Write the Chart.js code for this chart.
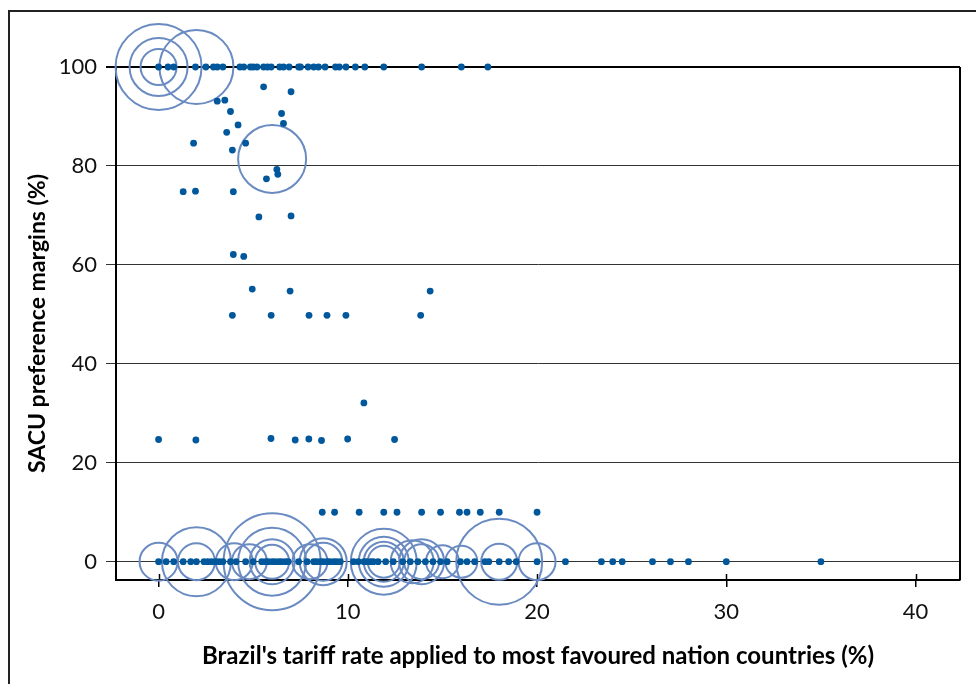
<!DOCTYPE html>
<html>
<head>
<meta charset="utf-8">
<script src="https://cdn.jsdelivr.net/npm/chart.js@4/dist/chart.umd.min.js"></script>
<style>
  html, body { margin: 0; padding: 0; background: #fff; overflow: hidden; }
  #wrap { position: relative; width: 976px; height: 684px; overflow: hidden; }
  #frame {
    position: absolute; left: 8px; top: 10px; width: 1200px; height: 900px;
    border-top: 2px solid #222; border-left: 2px solid #222; pointer-events: none;
  }
  canvas { position: absolute; left: 0; top: 0; }
</style>
</head>
<body>
<div id="wrap">
  <div id="frame"></div>
  <canvas id="myChart" width="976" height="684"></canvas>
</div>
<script>
// tariff lines with 100% preference margin (x = Brazil MFN rate)
const rowHundredX = [0, 0.5, 0.8, 1.95, 2.5, 2.9, 3.1, 3.4, 4.3, 4.5, 4.85, 5.0, 5.2, 5.55, 5.75, 5.95,
  6.4, 6.6, 6.9, 7.4, 7.5, 7.9, 8.2, 8.45, 8.8, 9.35, 9.55, 9.9, 10.4, 10.9, 11.9, 13.9, 16.0, 17.4];

// tariff lines with 10% preference margin
const rowTenX = [8.65, 9.3, 10.6, 11.9, 12.6, 13.9, 14.9, 15.9, 16.3, 17.0, 18.0, 20.0];

// tariff lines with no preference margin
const rowZeroX = [0, 0.4, 0.8, 1.3, 1.7, 2.0, 2.4, 2.6, 2.8, 3.0, 3.2, 3.4, 3.8, 4.1, 4.6, 5.0,
  5.45, 5.65, 5.8, 6.0, 6.15, 6.35, 6.5, 6.7, 6.85, 7.4, 7.85, 8.2, 8.35, 8.55, 8.7, 8.9, 9.05,
  9.25, 9.4, 9.6, 10.3, 10.55, 10.85, 11.0, 11.2, 11.35, 11.6, 12.0, 12.4, 12.9, 13.3, 13.7,
  14.1, 14.5, 14.9, 15.25, 15.95, 16.3, 16.7, 17.25, 17.45, 18.0, 18.5, 18.9, 20.0, 21.5,
  23.4, 24.0, 24.5, 26.1, 27.05, 28.0, 30.0, 35.0];

// remaining tariff lines
const otherX = [5.55, 7.0, 3.1, 3.5, 3.8, 6.5, 6.6, 4.2, 3.6, 1.85, 4.6, 3.9, 6.25, 6.3, 5.7,
  1.3, 1.95, 3.95, 5.3, 7.0, 3.95, 4.5, 4.95, 6.95, 14.35, 3.9, 5.95, 7.95, 8.9, 9.9, 13.85,
  10.85, 0, 1.97, 5.94, 7.22, 7.94, 8.61, 9.99, 12.47];
const otherY = [96.0, 95.0, 93.1, 93.3, 91.0, 90.6, 88.6, 88.3, 86.8, 84.6, 84.6, 83.2, 79.3, 78.3, 77.4,
  74.8, 74.9, 74.8, 69.7, 69.9, 62.1, 61.7, 55.1, 54.7, 54.7, 49.8, 49.8, 49.8, 49.8, 49.8, 49.8,
  32.1, 24.7, 24.6, 24.9, 24.6, 24.8, 24.5, 24.8, 24.7];

// bubbles (number of tariff lines at a point)
const bubbleX = [0, 0, 0, 2, 6, 0, 2, 2, 4, 4.8, 6, 6, 6, 6, 8, 8.7, 8.7,
  11.9, 11.9, 11.9, 11.9, 13.4, 13.9, 13.9, 15, 16, 18, 18, 20];
const bubbleY = [100, 100, 100, 100, 81.4, 0, 0, 0, 0, 0, 0, 0, 0, 0, 0, 0, 0,
  0, 0, 0, 0, 0, 0, 0, 0, 0, 0, 0, 0];
const bubbleSize = [18, 29, 43, 37, 34, 19, 34.5, 18.5, 18.5, 17.5, 48.5, 34, 22.5, 17, 17.5, 23.5, 19,
  33, 25, 20, 16, 21.5, 22.5, 17.5, 16.5, 16, 43, 18, 18.5];

const xTicks = [0, 10, 20, 30, 40];
const yTicks = [0, 20, 40, 60, 80, 100];

const dots = []
rowHundredX.forEach(x => dots.push({ x: x, y: 100 }))
rowTenX.forEach(x => dots.push({ x: x, y: 10 }))
rowZeroX.forEach(x => dots.push({ x: x, y: 0 }))
otherX.forEach((x, i) => dots.push({ x: x, y: otherY[i] }))

const bubbles = bubbleX.map((x, i) => ({ x: x, y: bubbleY[i], r: bubbleSize[i] }))

// right border of the plot + tick marks crossing the x axis
const framePlugin = {
  id: 'framePlugin',
  beforeDatasetsDraw(chart) {
    const { ctx, chartArea, scales } = chart;
    ctx.save();
    ctx.strokeStyle = '#000';
    ctx.lineWidth = 2;
    ctx.beginPath();
    ctx.moveTo(chartArea.right, chartArea.top);
    ctx.lineTo(chartArea.right, chartArea.bottom);
    ctx.stroke();
    ctx.lineWidth = 1.5;
    xTicks.forEach(v => {
      const px = Math.round(scales.x.getPixelForValue(v)) + 0.5;
      ctx.beginPath();
      ctx.moveTo(px, chartArea.bottom - 6);
      ctx.lineTo(px, chartArea.bottom);
      ctx.stroke();
    });
    ctx.restore();
  }
};

const fontFamily = 'Lato, "Open Sans", sans-serif';

new Chart(document.getElementById('myChart').getContext('2d'), {
  data: {
    datasets: [
      {
        type: 'scatter',
        data: dots,
        pointRadius: 3.4,
        pointBackgroundColor: '#00579b',
        pointBorderWidth: 0,
        clip: false
      },
      {
        type: 'bubble',
        data: bubbles,
        backgroundColor: 'rgba(0,0,0,0)',
        borderColor: '#6a8bc2',
        borderWidth: 2,
        clip: false
      }
    ]
  },
  options: {
    responsive: false,
    animation: false,
    events: [],
    layout: { autoPadding: false, padding: { top: 67, right: 16, left: 0, bottom: 0 } },
    plugins: { legend: { display: false }, tooltip: { enabled: false } },
    scales: {
      x: {
        type: 'linear',
        min: -2.25,
        max: 42.35,
        afterBuildTicks: s => { s.ticks = xTicks.map(v => ({ value: v })) },
        afterFit: s => { s.height = 104; s.paddingLeft = 0; s.paddingRight = 0 },
        border: { color: '#000', width: 2 },
        grid: { drawOnChartArea: false, drawTicks: true, tickLength: 7, color: '#000', lineWidth: 1.5 },
        ticks: { padding: 12, color: '#111', font: { family: fontFamily, size: 22 } },
        title: {
          display: true,
          text: "Brazil's tariff rate applied to most favoured nation countries (%)",
          color: '#000',
          font: { family: fontFamily, size: 24, weight: 'bold' },
          padding: { top: 0, bottom: 13 }
        }
      },
      y: {
        type: 'linear',
        min: -3.7,
        max: 100,
        afterBuildTicks: s => { s.ticks = yTicks.map(v => ({ value: v })) },
        afterFit: s => { s.width = 116 },
        border: { color: '#000', width: 2 },
        grid: {
          drawTicks: true,
          tickLength: 10,
          color: c => (c.tick && c.tick.value === 100 ? '#000' : '#333'),
          lineWidth: c => (c.tick && c.tick.value === 100 ? 2 : 1)
        },
        ticks: { padding: 9, color: '#111', font: { family: fontFamily, size: 22 } },
        title: {
          display: true,
          text: 'SACU preference margins (%)',
          color: '#000',
          font: { family: fontFamily, size: 23, weight: 'bold' },
          padding: { top: 24, bottom: 0 }
        }
      }
    }
  },
  plugins: [framePlugin]
});
</script>
</body>
</html>
